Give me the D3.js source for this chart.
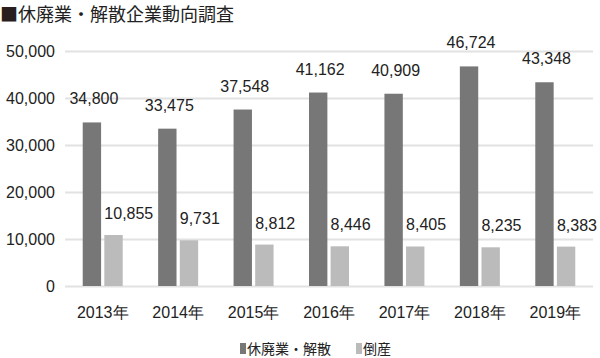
<!DOCTYPE html>
<html>
<head>
<meta charset="utf-8">
<script src="https://cdn.jsdelivr.net/npm/d3@7"></script>
<style>
  body { margin: 0; background: #fff; }
  svg { display: block; font-family: "Liberation Sans", "Noto Sans CJK JP", sans-serif; }
</style>
</head>
<body>
<script>
let years = ['2013年', '2014年', '2015年', '2016年', '2017年', '2018年', '2019年']
let closures = [34800, 33475, 37548, 41162, 40909, 46724, 43348]
let bankruptcies = [10855, 9731, 8812, 8446, 8405, 8235, 8383]
let series_names = ['休廃業・解散', '倒産']
let y_ticks = [0, 10000, 20000, 30000, 40000, 50000]

let width = 600, height = 358
let margin = {top: 51, right: 7, bottom: 73, left: 65}

let data = years.map((y, i) => ({ year: y, values: [closures[i], bankruptcies[i]] }))

let color = d3.scaleOrdinal().domain(series_names).range(['#777777', '#bbbbbb'])

let x0 = d3.scaleBand()
    .domain(years)
    .range([margin.left, width - margin.right])

let x1 = d3.scaleBand()
    .domain(series_names)
    .range([x0.bandwidth() / 2 - 20, x0.bandwidth() / 2 + 20])
    .paddingInner(0.15)

let y = d3.scaleLinear()
    .domain([0, 50000])
    .range([height - margin.bottom + 1, margin.top])

let fmt = d3.format(',')

const svg = d3.select('body').append('svg')
    .attr('width', width)
    .attr('height', height)

// title
let title = svg.append('text')
    .attr('x', 0)
    .attr('y', 21)
    .style('font-size', '18px')
    .style('font-family', '"Noto Sans CJK JP", sans-serif')
    .attr('fill', '#222')
title.append('tspan').attr('fill', '#2a1d1d').text('■')
title.append('tspan').text('休廃業・解散企業動向調査')

// grid + y labels
let yAxis = g => g
    .attr('transform', `translate(${margin.left},0)`)
    .call(d3.axisLeft(y).tickValues(y_ticks).tickFormat(fmt).tickSize(-(width - margin.left - margin.right)).tickPadding(10))
    .call(g => g.select('.domain').remove())
    .call(g => g.selectAll('.tick line').attr('stroke', '#e2e2e2').attr('stroke-width', 2))
    .call(g => g.selectAll('.tick text').attr('fill', '#222').style('font-size', '16px').attr('font-family', null))

svg.append('g').call(yAxis)

// bars
let groups = svg.append('g')
  .selectAll('g')
  .data(data)
  .join('g')
    .attr('transform', d => `translate(${x0(d.year)},0)`)

groups.selectAll('rect')
  .data(d => d.values.map((v, i) => ({ key: series_names[i], value: v })))
  .join('rect')
    .attr('x', d => x1(d.key))
    .attr('y', d => y(d.value))
    .attr('width', x1.bandwidth())
    .attr('height', d => y(0) - y(d.value))
    .attr('fill', d => color(d.key))

// value labels
groups.selectAll('text.val')
  .data(d => d.values.map((v, i) => ({ key: series_names[i], value: v, i })))
  .join('text')
    .attr('class', 'val')
    .attr('x', d => d.i === 0 ? x1(d.key) + x1.bandwidth() / 2 + 2 : x1(d.key))
    .attr('y', d => y(d.value) - (d.i === 0 ? 18 : 16))
    .attr('text-anchor', d => d.i === 0 ? 'middle' : 'start')
    .attr('fill', '#222')
    .style('font-size', '16px')
    .text(d => fmt(d.value))

// x labels
let xAxis = g => g
    .attr('transform', `translate(0,${y(0)})`)
    .call(d3.axisBottom(x0).tickSize(0).tickPadding(21))
    .call(g => g.select('.domain').remove())
    .call(g => g.selectAll('.tick text').attr('fill', '#222').style('font-size', '16px').attr('font-family', null))

svg.append('g').call(xAxis)

// legend
let legend = svg.append('g')
    .attr('transform', `translate(240,349)`)

let lx = [0, 116]
series_names.forEach((name, i) => {
  legend.append('rect')
      .attr('x', lx[i])
      .attr('y', -6)
      .attr('width', 6)
      .attr('height', 11)
      .attr('fill', color(name))
  legend.append('text')
      .attr('x', lx[i] + 7)
      .attr('y', 5)
      .attr('fill', '#222')
      .style('font-size', '14px')
      .text(name)
})
</script>
</body>
</html>
